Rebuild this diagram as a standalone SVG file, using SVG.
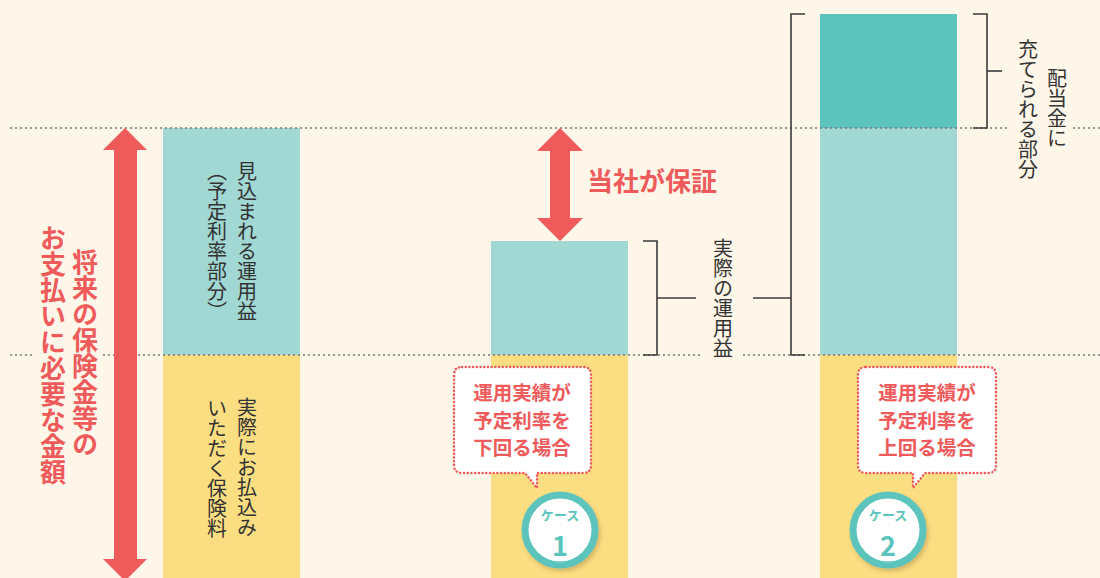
<svg xmlns="http://www.w3.org/2000/svg" width="1100" height="578" viewBox="0 0 1100 578">
<defs>
<style>
.jp{font-family:"Noto Sans CJK JP","Noto Sans",sans-serif}
.vt{writing-mode:vertical-rl;text-anchor:middle;font-size:20px;fill:#333}
.vr{writing-mode:vertical-rl;text-anchor:middle;font-size:26px;font-weight:700;fill:#EF5A5A}
.dot{stroke:#777;stroke-width:1.5;stroke-dasharray:2 3;fill:none}
.br{stroke:#3a3a3a;stroke-width:1.6;fill:none}
.red{fill:#EF5A5A}
.teal{fill:#A1D8D4}
.teal2{fill:#5CC4BC}
.yel{fill:#FCDE82}
.bub{fill:#fff;stroke:#EF5A5A;stroke-width:2.5;stroke-dasharray:0.1 3.6;stroke-linecap:round;stroke-linejoin:round}
.bt{font-size:19.5px;font-weight:700;fill:#EF5A5A;text-anchor:middle}
.ring{fill:#fff;stroke:#5CC4BC;stroke-width:7}
.ct{fill:#5CC4BC;font-weight:700;text-anchor:middle}
</style>
<filter id="sh" x="-30%" y="-30%" width="160%" height="160%">
<feDropShadow dx="2" dy="3" stdDeviation="2" flood-color="#8a7030" flood-opacity="0.35"/>
</filter>
</defs>
<rect width="1100" height="578" fill="#FEF6E9"/>

<g id="bar-left">
<rect class="teal" x="163" y="128" width="137" height="227"/>
<rect class="yel" x="163" y="355" width="137" height="223"/>
<text class="jp vt" x="247" y="241">見込まれる運用益</text>
<text class="jp vt" x="217" y="241">（予定利率部分）</text>
<text class="jp vt" x="247" y="467">実際にお払込み</text>
<text class="jp vt" x="217" y="468">いただく保険料</text>
</g>

<g id="bar-case1">
<rect class="teal" x="491" y="241" width="137" height="114"/>
<rect class="yel" x="491" y="355" width="137" height="223"/>
</g>

<g id="bar-case2">
<rect class="teal2" x="820" y="14" width="137" height="114"/>
<rect class="teal" x="820" y="128" width="137" height="227"/>
<rect class="yel" x="820" y="355" width="137" height="223"/>
</g>

<g id="guides">
<line class="dot" x1="10" y1="128" x2="1010" y2="128"/>
<line class="dot" x1="1073" y1="128" x2="1100" y2="128"/>
<line class="dot" x1="10" y1="355" x2="32" y2="355"/>
<line class="dot" x1="103" y1="355" x2="703" y2="355"/>
<line class="dot" x1="743" y1="355" x2="1100" y2="355"/>
</g>

<g id="arrow-total">
<polygon class="red" points="125,128 147,150 137,150 137,559 147,559 125,581 103,559 114,559 114,150 103,150"/>
<text class="jp vr" x="85" y="353">将来の保険金等の</text>
<text class="jp vr" x="53" y="355">お支払いに必要な金額</text>
</g>

<g id="arrow-guarantee">
<polygon class="red" points="560,128 583,151 570,151 570,218 583,218 560,241 537,218 550,218 550,151 537,151"/>
<text class="jp" x="587" y="191" font-size="26" font-weight="700" fill="#EF5A5A">当社が保証</text>
</g>

<g id="connectors">
<polyline class="br" points="643,241 657,241 657,355 643,355"/>
<line class="br" x1="657" y1="298" x2="696" y2="298"/>
<polyline class="br" points="805,14 791,14 791,355 805,355"/>
<line class="br" x1="753" y1="298" x2="791" y2="298"/>
<polyline class="br" points="973,14 987,14 987,128 973,128"/>
<line class="br" x1="987" y1="71" x2="1002" y2="71"/>
</g>

<g id="label-actual">
<text class="jp vt" x="723" y="298">実際の運用益</text>
</g>

<g id="label-dividend">
<text class="jp vt" x="1057" y="108">配当金に</text>
<text class="jp vt" x="1028" y="109">充てられる部分</text>
</g>

<g id="callout-case1">
<path class="bub" d="M462,367 H583 Q591,367 591,375 V465 Q591,473 583,473 H537 V488 L525,473 H462 Q454,473 454,465 V375 Q454,367 462,367 Z"/>
<text class="jp bt" x="522" y="400">運用実績が</text>
<text class="jp bt" x="522" y="428">予定利率を</text>
<text class="jp bt" x="522" y="455">下回る場合</text>
</g>

<g id="case1">
<circle class="ring" cx="560" cy="530" r="35" filter="url(#sh)"/>
<text class="jp ct" x="560" y="520" font-size="13">ケース</text>
<text class="jp ct" x="560" y="556" font-size="27">1</text>
</g>

<g id="callout-case2">
<path class="bub" d="M866,367 H988 Q996,367 996,375 V465 Q996,473 988,473 H925 L913,488 V473 H866 Q858,473 858,465 V375 Q858,367 866,367 Z"/>
<text class="jp bt" x="927" y="400">運用実績が</text>
<text class="jp bt" x="927" y="428">予定利率を</text>
<text class="jp bt" x="927" y="455">上回る場合</text>
</g>

<g id="case2">
<circle class="ring" cx="888" cy="530" r="35" filter="url(#sh)"/>
<text class="jp ct" x="888" y="520" font-size="13">ケース</text>
<text class="jp ct" x="888" y="556" font-size="27">2</text>
</g>
</svg>
